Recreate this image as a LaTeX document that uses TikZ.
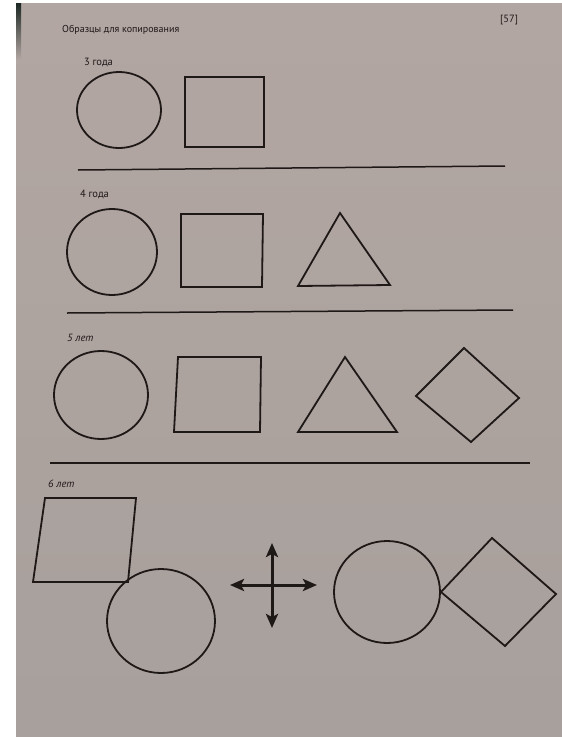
\documentclass[tikz,border=0pt]{standalone}
\usepackage{fontspec}
\setmainfont{PT Sans}
\usetikzlibrary{arrows.meta}
\definecolor{papertop}{RGB}{178,166,162}
\definecolor{paperbot}{RGB}{167,160,156}
\definecolor{ink}{RGB}{30,24,23}
\definecolor{edge}{RGB}{28,40,36}
\begin{document}
\begin{tikzpicture}[x=1pt,y=-1pt,
  fig/.style={draw=ink,line width=1.8pt,line join=miter},
  rule/.style={draw=ink,line width=1.5pt},
  lbl/.style={anchor=base west,inner sep=0pt,text=ink,font=\fontsize{10.5}{12}\selectfont},
  arr/.style={draw=ink,line width=3pt,-{Stealth[length=14pt,width=12pt,inset=3pt]}}]
\useasboundingbox (0,0) rectangle (562,737);
\fill[white] (0,0) rectangle (562,737);
\shade[top color=papertop,bottom color=paperbot] (16,3) rectangle (562,737);
\shade[top color=edge,bottom color=papertop] (16,3) rectangle (21,60);
% header
\node[lbl,font=\fontsize{10}{12}\selectfont] (head) at (62,32) {Образцы для копирования};
\node[lbl] (page) at (500,22) {[57]};
% section 1
\node[lbl] (l3) at (84,65) {3 года};
\draw[fig] (119,110) ellipse [x radius=42,y radius=38];
\draw[fig] (185,77) rectangle (264,147);
\coordinate (r1a) at (78,170); \coordinate (r1b) at (505,166);
\draw[rule] (r1a) -- (r1b);
% section 2
\node[lbl] (l4) at (80,197) {4 года};
\draw[fig] (112,252) ellipse [x radius=45,y radius=43];
\draw[fig] (181,214) -- (263,214) -- (262,287) -- (181,287) -- cycle;
\draw[fig] (340,213) -- (390,285) -- (298,286) -- cycle;
\coordinate (r2a) at (67,313); \coordinate (r2b) at (513,310);
\draw[rule] (r2a) -- (r2b);
% section 3
\node[lbl,font=\fontsize{10.5}{12}\selectfont\itshape] (l5) at (67,341) {5 лет};
\draw[fig] (101,395) ellipse [x radius=47,y radius=44];
\draw[fig] (178,357) -- (261,357) -- (260,432) -- (174,432) -- cycle;
\draw[fig] (345,357) -- (397,432) -- (298,432) -- cycle;
\draw[fig] (464,348) -- (519,398) -- (471,442) -- (416,396) -- cycle;
\coordinate (r3a) at (50,463); \coordinate (r3b) at (530,463);
\draw[rule] (r3a) -- (r3b);
% section 4
\node[lbl,font=\fontsize{10.5}{12}\selectfont\itshape] (l6) at (48,487) {6 лет};
\draw[fig] (45,498) -- (136,498) -- (128,582) -- (33,582) -- cycle;
\draw[fig] (161,621) ellipse [x radius=54,y radius=52];
\coordinate (cc) at (272,585);
\coordinate (cl) at (230,585); \coordinate (cr) at (317,585);
\coordinate (ct) at (272,543); \coordinate (cb) at (272,628);
\draw[arr] (cc) -- (cl);
\draw[arr] (cc) -- (cr);
\draw[arr] (cc) -- (ct);
\draw[arr] (cc) -- (cb);
\draw[fig] (387,592) ellipse [x radius=53,y radius=51];
\draw[fig] (441,592) -- (492,538) -- (556,594) -- (505,646) -- cycle;
\end{tikzpicture}
\end{document}
